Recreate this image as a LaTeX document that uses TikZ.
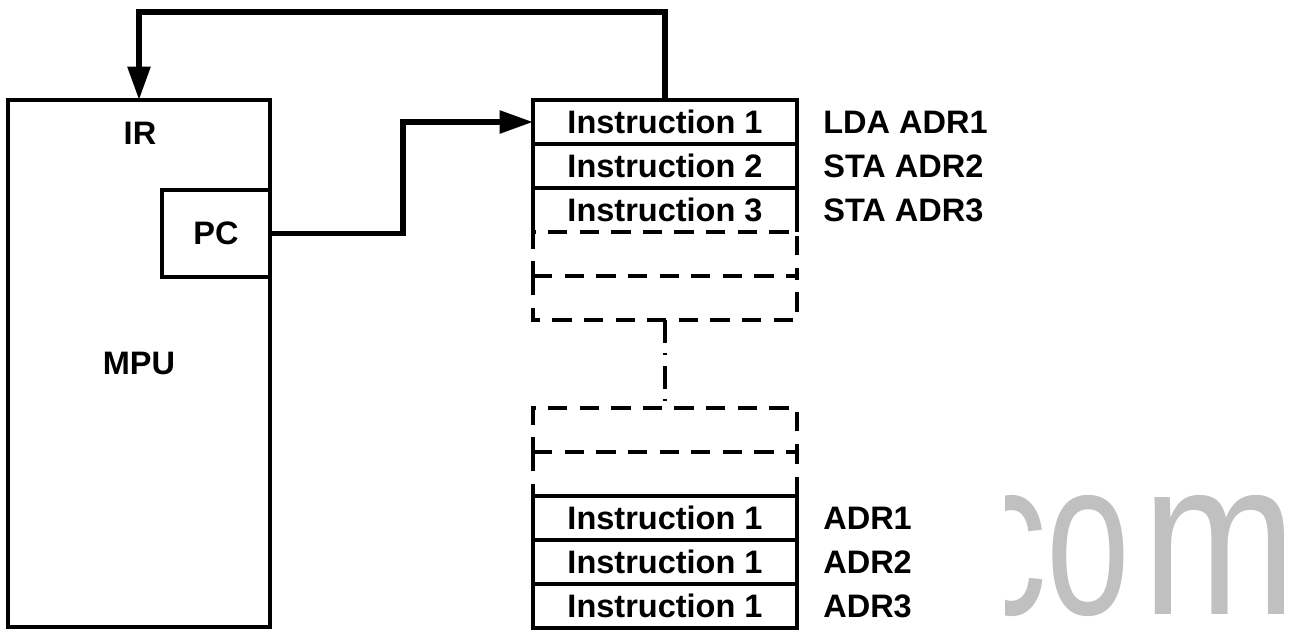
\documentclass[tikz,border=0pt]{standalone}
\usepackage{fontspec}
\setmainfont{Liberation Sans}
\usetikzlibrary{arrows.meta, positioning}
\definecolor{wmgray}{RGB}{192,192,192}

\begin{document}
\begin{tikzpicture}[x=0.02cm, y=-0.02cm,
  txt/.style={font=\fontsize{18.5}{22}\selectfont\bfseries},
  box/.style={draw, line width=2.1pt},
  dashbox/.style={draw, line width=2.1pt, dash pattern=on 11pt off 7pt},
  cell/.style={txt, minimum width=5.28cm, minimum height=0.88cm, inner sep=0pt, outer sep=0pt},
  lbl/.style={txt, inner sep=0pt},
  flow/.style={line width=3.2pt, -{Triangle[length=19pt, width=12.5pt]}}]

  \useasboundingbox (0,0) rectangle (1289,630);

  % processore
  \node[box, cell, minimum width=5.24cm, minimum height=10.54cm] (mpu) at (139,363.5) {MPU};
  \node[txt] (ir) at (140,133) {IR};
  \node[box, cell, minimum width=2.16cm, minimum height=1.74cm] (pc) at (216,233.5) {PC};

  % memoria
  \node[box, cell] (r1) at (665,122) {Instruction 1};
  \node[box, cell, below=0pt of r1] (r2) {Instruction 2};
  \node[cell, below=0pt of r2] (r3) {Instruction 3};
  \draw[box] (r3.south west) -- (r3.north west) (r3.north east) -- (r3.south east);
  \node[dashbox, cell, below=0pt of r3] (d1) {};
  \node[cell, below=0pt of d1] (d2) {};
  \draw[dashbox] (d2.north west) -- (d2.south west) -- (d2.south east) -- (d2.north east);
  \node[dashbox, cell, below=1.76cm of d2] (d3) {};
  \node[cell, below=0pt of d3] (d4) {};
  \draw[dashbox] (d4.north west) -- (d4.south west) (d4.south east) -- (d4.north east);
  \node[box, cell, below=0pt of d4] (r4) {Instruction 1};
  \node[box, cell, below=0pt of r4] (r5) {Instruction 1};
  \node[box, cell, below=0pt of r5] (r6) {Instruction 1};
  \draw[line width=2.1pt, dash pattern=on 13pt off 6pt on 1.2pt off 6pt] (d2.south) -- (d3.north);

  % indirizzi
  \node[lbl, right=0.52cm of r1] (a1) {LDA ADR1};
  \node[lbl, right=0.52cm of r2] (a2) {STA ADR2};
  \node[lbl, right=0.52cm of r3] (a3) {STA ADR3};
  \node[lbl, right=0.52cm of r4] (a4) {ADR1};
  \node[lbl, right=0.52cm of r5] (a5) {ADR2};
  \node[lbl, right=0.52cm of r6] (a6) {ADR3};

  % frecce
  \draw[flow] (r1.north) -- ++(0,-88) -| (mpu.north);
  \coordinate (bend) at (403,232);
  \draw[flow] (pc.east) -- (bend |- pc.east) |- (r1.west);

  % filigrana
  \begin{scope}
    \clip (1005,470) rectangle (1289,630);
    \begin{scope}[shift={(971,614)}, xscale=0.68]
      \node[transform shape, anchor=base west, inner sep=0pt, text=wmgray,
        font=\fontsize{126}{126}\selectfont] (wm) at (0,0) {co\kern0.08em\scalebox{1.23}[1]{m}};
    \end{scope}
  \end{scope}
\end{tikzpicture}
\end{document}
